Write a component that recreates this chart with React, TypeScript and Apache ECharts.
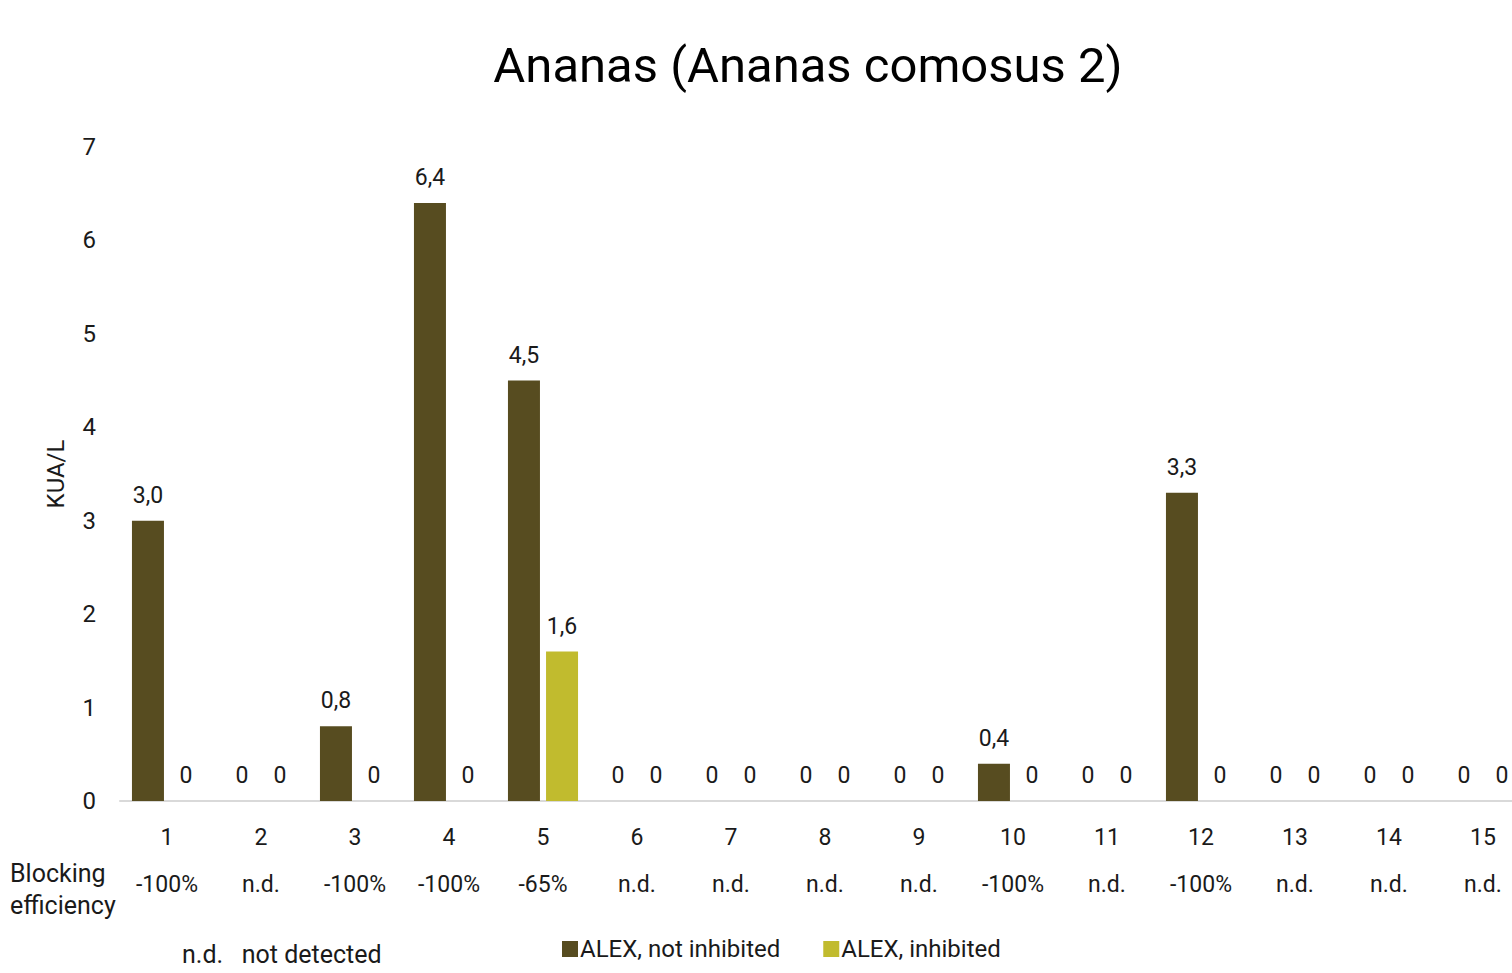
import React, { useEffect, useRef } from "react";
import * as echarts from "echarts";

const categories = ["1", "2", "3", "4", "5", "6", "7", "8", "9", "10", "11", "12", "13", "14", "15"];
const notInhibited = [3.0, 0, 0.8, 6.4, 4.5, 0, 0, 0, 0, 0.4, 0, 3.3, 0, 0, 0];
const inhibited = [0, 0, 0, 0, 1.6, 0, 0, 0, 0, 0, 0, 0, 0, 0, 0];
const blocking = ["-100%", "n.d.", "-100%", "-100%", "-65%", "n.d.", "n.d.", "n.d.", "n.d.", "-100%", "n.d.", "-100%", "n.d.", "n.d.", "n.d."];
const yTicks = [0, 1, 2, 3, 4, 5, 6, 7];

const FONT = "Roboto, 'DejaVu Sans', sans-serif";
const fmt = (v: number) => (v === 0 ? "0" : v.toFixed(1).replace(".", ","));

export default function App() {
  const ref = useRef<HTMLDivElement>(null);
  useEffect(() => {
    document.body.style.margin = "0";
    document.body.style.overflow = "hidden";
    const chart = echarts.init(ref.current!, undefined, { renderer: "svg" });
    const labelStyle = {
      show: true,
      position: "top" as const,
      distance: 14,
      fontSize: 23,
      color: "#1a1a1a",
      fontFamily: FONT,
      formatter: (p: any) => fmt(p.value),
    };
    chart.setOption({
      animation: false,
      backgroundColor: "#ffffff",
      textStyle: { fontFamily: FONT },
      title: {
        text: "Ananas (Ananas comosus 2)",
        left: 803,
        textAlign: "center",
        top: 36,
        textStyle: { fontSize: 49, fontWeight: "normal", color: "#000", fontFamily: FONT },
      },
      legend: {
        left: 557,
        top: 932,
        itemWidth: 16,
        itemHeight: 16,
        itemGap: 43,
        icon: "rect",
        textStyle: { fontSize: 24, color: "#1a1a1a", fontFamily: FONT, padding: [0, 0, 0, -3] },
        data: ["ALEX, not inhibited", "ALEX, inhibited"],
      },
      grid: { left: 120, top: 147, width: 1410, height: 654, containLabel: false },
      xAxis: [
        {
          type: "category",
          data: categories,
          position: "bottom",
          axisLine: { show: true, lineStyle: { color: "#d9d9d9", width: 2 } },
          axisTick: { show: false },
          axisLabel: { fontSize: 23, color: "#1a1a1a", margin: 25, fontFamily: FONT, interval: 0 },
        },
        {
          type: "category",
          data: blocking,
          position: "bottom",
          offset: 48,
          axisLine: { show: false },
          axisTick: { show: false },
          axisLabel: { fontSize: 23, color: "#1a1a1a", margin: 24, fontFamily: FONT, interval: 0 },
        },
      ],
      yAxis: {
        type: "value",
        min: yTicks[0],
        max: yTicks[yTicks.length - 1],
        interval: 1,
        name: "KUA/L",
        nameLocation: "middle",
        nameGap: 52,
        nameRotate: 90,
        nameTextStyle: { fontSize: 24, color: "#1a1a1a", fontFamily: FONT },
        splitLine: { show: false },
        axisLine: { show: false },
        axisTick: { show: false },
        axisLabel: { fontSize: 24, color: "#1a1a1a", margin: 24, fontFamily: FONT },
      },
      series: [
        {
          name: "ALEX, not inhibited",
          type: "bar",
          data: notInhibited,
          barWidth: 32,
          barGap: "19%",
          itemStyle: { color: "#574c20" },
          label: labelStyle,
        },
        {
          name: "ALEX, inhibited",
          type: "bar",
          data: inhibited,
          barWidth: 32,
          itemStyle: { color: "#c1bb2e" },
          label: labelStyle,
        },
      ],
      graphic: [
        {
          type: "text",
          left: 10,
          top: 857,
          style: {
            text: "Blocking\nefficiency",
            fontSize: 25,
            lineHeight: 32,
            fill: "#1a1a1a",
            fontFamily: FONT,
          },
        },
        {
          type: "text",
          left: 182,
          top: 942,
          style: {
            text: "n.d.   not detected",
            fontSize: 25,
            fill: "#1a1a1a",
            fontFamily: FONT,
          },
        },
      ],
    });
    return () => chart.dispose();
  }, []);
  return <div ref={ref} style={{ width: 1530, height: 973 }} />;
}
